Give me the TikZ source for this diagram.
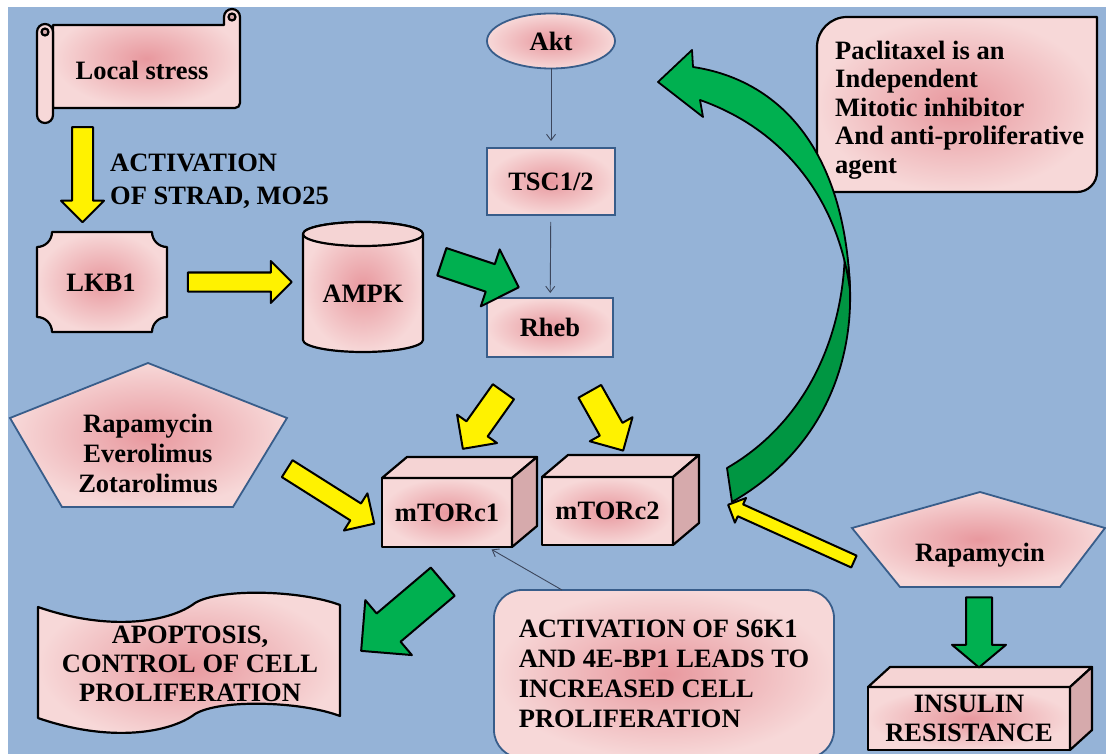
\documentclass[tikz,border=0pt]{standalone}
\usepackage{fontspec}
\setmainfont{Liberation Serif}
\usepackage{tikz}
\usetikzlibrary{positioning,arrows.meta,shapes.geometric,shapes.arrows,calc}
\definecolor{bgblue}{RGB}{149,179,215}
\definecolor{pinkc}{RGB}{232,152,158}
\definecolor{pinko}{RGB}{247,216,216}
\definecolor{pinkside}{RGB}{214,170,172}
\definecolor{pinktop}{RGB}{245,212,212}
\definecolor{edgeblue}{RGB}{56,93,138}
\definecolor{arrgreen}{RGB}{0,176,80}
\definecolor{darkgreen}{RGB}{0,150,66}
\definecolor{thingray}{RGB}{60,70,92}
\tikzset{
  txt/.style={font=\bfseries\fontsize{26.5}{30}\selectfont, align=center, inner sep=0pt},
  pinkfill/.style={inner color=pinkc, outer color=pinko},
  blackline/.style={draw=black, line width=2.2pt, line join=round},
  blueline/.style={draw=edgeblue, line width=1.8pt},
  bluebox/.style={txt, pinkfill, blueline, outer sep=0pt},
  cubefront/.style={txt, pinkfill, blackline, outer sep=0pt},
  thinarr/.style={-{Straight Barb[length=6pt, width=9pt]}, draw=thingray, line width=0.9pt},
  blockarrow/.style n args={3}{single arrow, blackline, line width=2pt, inner xsep=0pt, inner ysep={#2/2},
                   minimum height=#1, single arrow head extend={(#3-#2)/2}},
  yarr/.style={fill=yellow},
  garr/.style={fill=arrgreen},
}

\begin{document}
\begin{tikzpicture}[x=1pt, y=1pt]
\useasboundingbox (0,0) rectangle (1106,-754);
\fill[white] (0,0) rectangle (1106,-754);
\fill[bgblue] (8,-7) rectangle (1106,-754);

%Shapes
% scroll
\path[pinkfill, blackline] (53,-25) -- (224,-25) -- (224,-17)
  arc[start angle=180, end angle=0, radius=8] -- (240,-103)
  arc[start angle=0, end angle=-90, radius=5] -- (53,-108) -- cycle;
\draw[blackline, fill=pinkside] (232,-17) circle[radius=3.5];
\path[fill=pinko, blackline] (37,-32) -- (37,-115)
  arc[start angle=180, end angle=360, radius=8] -- (53,-32)
  arc[start angle=0, end angle=180, radius=8] -- cycle;
\draw[blackline, fill=pinkside] (45,-32) circle[radius=3.5];
% plaque
\path[pinkfill, blackline] (52,-232) -- (152,-232) arc[start angle=180, end angle=270, radius=15]
  -- (167,-317) arc[start angle=90, end angle=180, radius=15]
  -- (52,-332) arc[start angle=0, end angle=90, radius=15]
  -- (37,-247) arc[start angle=270, end angle=360, radius=15] -- cycle;
% cylinder
\path[pinkfill, blackline] (303,-234) -- (303,-340)
  arc[start angle=180, end angle=360, x radius=60, y radius=12] -- (423,-234)
  arc[start angle=0, end angle=180, x radius=60, y radius=12] -- cycle;
\draw[blackline, fill=pinktop] (363,-234) ellipse[x radius=60, y radius=12];
% pentagons
\path[pinkfill, blueline] (148,-363) -- (287,-418) -- (233,-507) -- (62,-507) -- (10,-418) -- cycle;
\path[pinkfill, blueline] (980,-492) -- (1105,-528) -- (1060,-587) -- (900,-587) -- (852,-528) -- cycle;
% wave banner
\path[pinkfill, blackline] (38,-607) .. controls (110,-632) and (170,-622) .. (195,-603)
  .. controls (220,-588) and (300,-590) .. (340,-605) -- (340,-716)
  .. controls (300,-701) and (220,-699) .. (195,-714)
  .. controls (170,-733) and (110,-743) .. (38,-718) -- cycle;
% paclitaxel box
\path[pinkfill, blackline] (817,-192) -- (817,-47) arc[start angle=180, end angle=90, radius=30]
  -- (1097,-17) -- (1097,-172) arc[start angle=0, end angle=-90, radius=20] -- cycle;

%Nodes
\node[txt] (stress) at (142,-70) {Local stress};
\node[txt, anchor=west, align=left, font=\bfseries\fontsize{26.5}{33}\selectfont] (strad) at (110,-181.5) {ACTIVATION\\OF STRAD, MO25};
\node[txt] (lkb) at (101,-283) {LKB1};
\node[txt] (ampk) at (363,-294) {AMPK};
\node[txt] (drugs) at (148,-453) {Rapamycin\\Everolimus\\Zotarolimus};
\node[txt] (rapa) at (980,-555) {Rapamycin};
\node[txt, font=\bfseries\fontsize{26.5}{29}\selectfont] (apop) at (190,-664) {APOPTOSIS,\\CONTROL OF CELL\\PROLIFERATION};
\node[txt, anchor=west, align=left, font=\bfseries\fontsize{26.5}{28.5}\selectfont] (paclit) at (835,-110)
  {Paclitaxel is an\\Independent\\Mitotic inhibitor\\And anti-proliferative\\agent};

\node[bluebox, ellipse, minimum width=128, minimum height=55] (akt) at (551,-41) {Akt};
\node[bluebox, minimum width=128, minimum height=67, text depth=0pt] (tsc) at (551,-181.5) {TSC1/2};
\node[bluebox, minimum width=126, minimum height=59] (rheb) at (550,-327.5) {Rheb};
\node[bluebox, rounded corners=28, minimum width=340, minimum height=168, align=left] (s6k1) at (664,-674)
  {ACTIVATION OF S6K1\\AND 4E-BP1 LEADS TO\\INCREASED CELL\\PROLIFERATION};

% cubes
\node[cubefront, minimum width=130, minimum height=69] (mtor1) at (447,-512.5) {mTORc1};
\filldraw[blackline, fill=pinktop] (mtor1.north west) -- ++(25,21) -- ($(mtor1.north east)+(25,21)$) -- (mtor1.north east) -- cycle;
\filldraw[blackline, fill=pinkside] (mtor1.north east) -- ++(25,21) -- ($(mtor1.south east)+(25,21)$) -- (mtor1.south east) -- cycle;
\node[cubefront, minimum width=131, minimum height=68] (mtor2) at (607.5,-511) {mTORc2};
\filldraw[blackline, fill=pinktop] (mtor2.north west) -- ++(26,22) -- ($(mtor2.north east)+(26,22)$) -- (mtor2.north east) -- cycle;
\filldraw[blackline, fill=pinkside] (mtor2.north east) -- ++(26,22) -- ($(mtor2.south east)+(26,22)$) -- (mtor2.south east) -- cycle;
\node[cubefront, minimum width=202, minimum height=63, font=\bfseries\fontsize{26.5}{28.5}\selectfont] (insulin) at (969,-718.5) {INSULIN\\RESISTANCE};
\filldraw[blackline, fill=pinktop] (insulin.north west) -- ++(22,20) -- ($(insulin.north east)+(22,20)$) -- (insulin.north east) -- cycle;
\filldraw[blackline, fill=pinkside] (insulin.north east) -- ++(22,20) -- ($(insulin.south east)+(22,20)$) -- (insulin.south east) -- cycle;

%Lines
\draw[thinarr, shorten >=7pt] (akt) -- (tsc);
\draw[thinarr, shorten <=7pt, shorten >=5pt] (tsc) -- (rheb);
\draw[thinarr, shorten >=5pt] ($(s6k1.north west)!0.2!(s6k1.north east)$) -- ($(mtor1.south west)!0.81!(mtor1.south east)$);

% block arrows
\node[blockarrow={95}{19}{41}, yarr, rotate=-90] (stressarr) at (82.5,-169.5) {};
\node[blockarrow={104}{17}{40}, yarr] (lkbarr) at (235,-282) {};
\node[blockarrow={81}{27}{58}, garr, rotate=-18.4] (ampkarr) at (473.4,-272.3) {};
\node[blockarrow={103}{18}{42}, yarr, rotate=-32.3] (drugarr) at (326.5,-493.5) {};
\node[blockarrow={70}{24}{47}, yarr, rotate=-125.4] (rheb1arr) at (486.9,-415) {};
\node[blockarrow={68}{24}{47}, yarr, rotate=-60.6] (rheb2arr) at (603.3,-415.3) {};
\node[blockarrow={107}{35}{70}, garr, rotate=-139.7] (aposarr) at (409,-610.3) {};
\node[blockarrow={138}{11}{25}, yarr, rotate=155.7] (rapaarr) at (794,-534.5) {};
\node[blockarrow={70}{24}{52}, garr, rotate=-90, single arrow tip angle=100] (insarr) at (979,-627) {};

% curved arrow
\filldraw[blackline, line width=1.8pt, fill=darkgreen] (845,-245) .. controls (862,-330) and (840,-440) .. (732,-502)
  -- (727,-468) .. controls (810,-420) and (845,-330) .. cycle;
\filldraw[blackline, line width=1.8pt, fill=arrgreen] (658,-82) -- (692,-50) -- (693,-67)
  .. controls (780,-80) and (845,-150) .. (850,-290)
  .. controls (838,-200) and (785,-130) .. (700,-100) -- (703,-117) -- cycle;
\end{tikzpicture}
\end{document}
